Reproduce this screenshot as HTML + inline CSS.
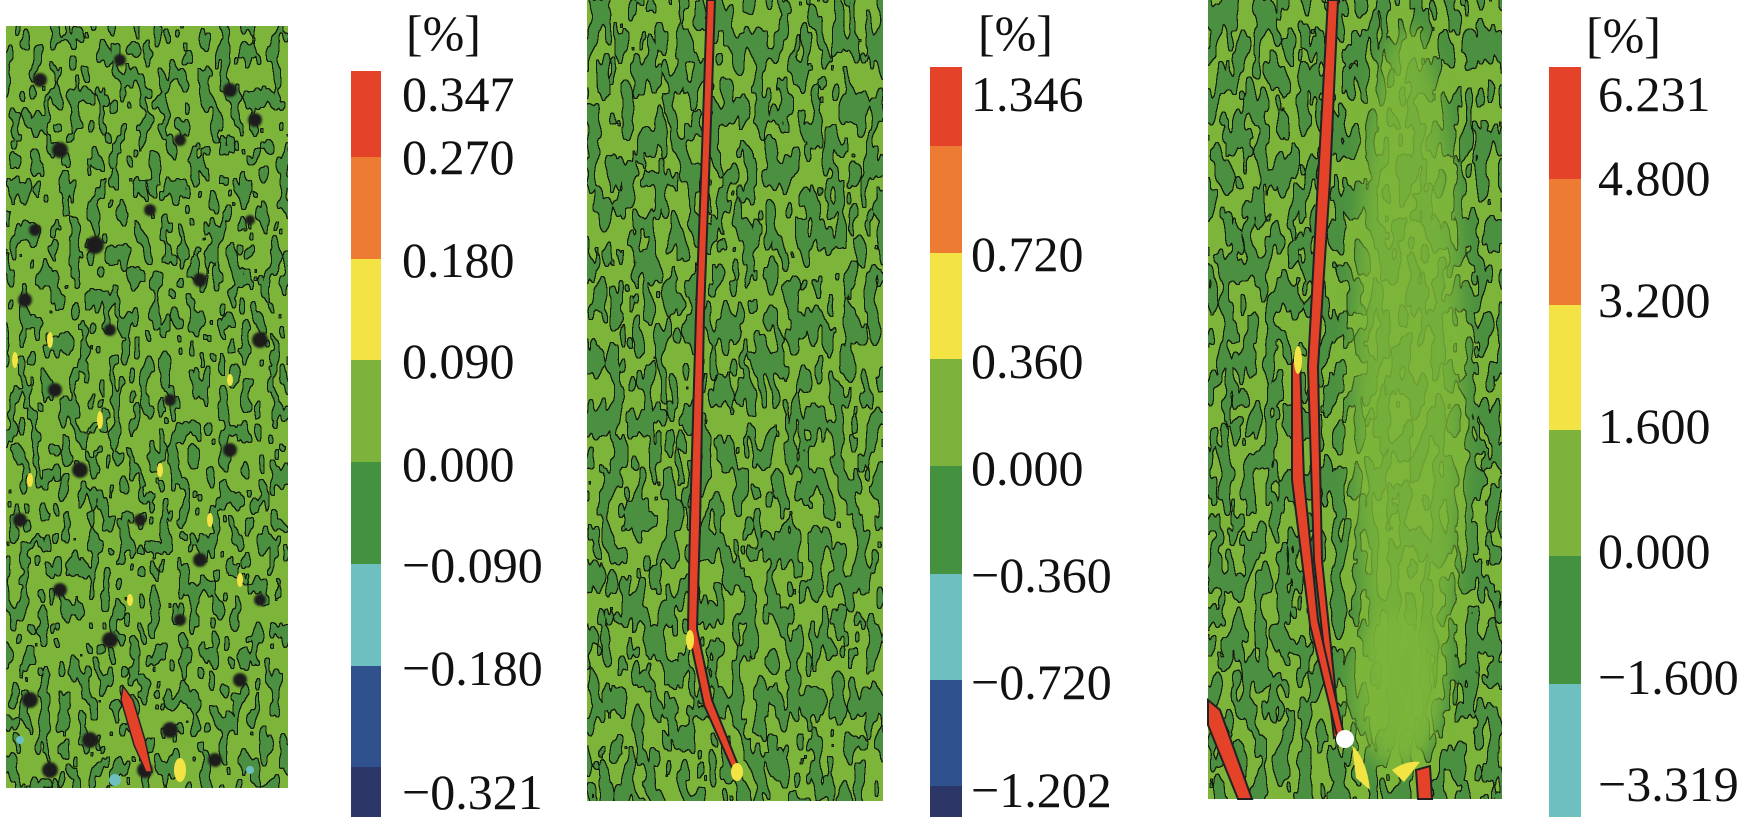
<!DOCTYPE html>
<html><head><style>
html,body{margin:0;padding:0;background:#fff;width:1749px;height:817px;overflow:hidden}
svg text{font-family:"Liberation Serif",serif;font-size:50px;fill:#111}
</style></head><body>
<svg width="1749" height="817" viewBox="0 0 1749 817" xmlns="http://www.w3.org/2000/svg">
<defs>
<filter id="b1" filterUnits="userSpaceOnUse" x="6" y="26" width="282" height="762" color-interpolation-filters="sRGB">
<feTurbulence type="fractalNoise" baseFrequency="0.1 0.045" numOctaves="2" seed="3" result="n"/>
<feColorMatrix in="n" type="matrix" values="0 0 0 0 0  0 0 0 0 0  0 0 0 0 0  -9 0 0 0 4.35" result="a"/>
<feComponentTransfer in="a" result="m"><feFuncA type="discrete" tableValues="0 1"/></feComponentTransfer>
<feMorphology in="m" operator="dilate" radius="1.2" result="d"/>
<feComposite in="d" in2="m" operator="out" result="e0"/>
<feColorMatrix in="e0" type="matrix" values="0 0 0 0 0.08  0 0 0 0 0.1  0 0 0 0 0.06  0 0 0 1 0" result="e"/>
<feFlood flood-color="#4a9040" result="c"/>
<feComposite in="c" in2="m" operator="in" result="dk"/>
<feMerge><feMergeNode in="dk"/><feMergeNode in="e"/></feMerge>
</filter>
<filter id="b2" filterUnits="userSpaceOnUse" x="587" y="0" width="296" height="801" color-interpolation-filters="sRGB">
<feTurbulence type="fractalNoise" baseFrequency="0.09 0.032" numOctaves="2" seed="7" result="n"/>
<feColorMatrix in="n" type="matrix" values="0 0 0 0 0  0 0 0 0 0  0 0 0 0 0  -9 0 0 0 4.8" result="a"/>
<feComponentTransfer in="a" result="m"><feFuncA type="discrete" tableValues="0 1"/></feComponentTransfer>
<feMorphology in="m" operator="dilate" radius="1.2" result="d"/>
<feComposite in="d" in2="m" operator="out" result="e0"/>
<feColorMatrix in="e0" type="matrix" values="0 0 0 0 0.08  0 0 0 0 0.1  0 0 0 0 0.06  0 0 0 1 0" result="e"/>
<feFlood flood-color="#4a9040" result="c"/>
<feComposite in="c" in2="m" operator="in" result="dk"/>
<feMerge><feMergeNode in="dk"/><feMergeNode in="e"/></feMerge>
</filter>
<filter id="b3" filterUnits="userSpaceOnUse" x="1208" y="0" width="294" height="799" color-interpolation-filters="sRGB">
<feTurbulence type="fractalNoise" baseFrequency="0.09 0.032" numOctaves="2" seed="11" result="n"/>
<feColorMatrix in="n" type="matrix" values="0 0 0 0 0  0 0 0 0 0  0 0 0 0 0  -9 0 0 0 4.9" result="a"/>
<feComponentTransfer in="a" result="m"><feFuncA type="discrete" tableValues="0 1"/></feComponentTransfer>
<feMorphology in="m" operator="dilate" radius="1.2" result="d"/>
<feComposite in="d" in2="m" operator="out" result="e0"/>
<feColorMatrix in="e0" type="matrix" values="0 0 0 0 0.08  0 0 0 0 0.1  0 0 0 0 0.06  0 0 0 1 0" result="e"/>
<feFlood flood-color="#4a9040" result="c"/>
<feComposite in="c" in2="m" operator="in" result="dk"/>
<feMerge><feMergeNode in="dk"/><feMergeNode in="e"/></feMerge>
</filter>
<filter id="soft" x="-50%" y="-50%" width="200%" height="200%"><feGaussianBlur stdDeviation="10"/></filter>
<filter id="sp"><feGaussianBlur stdDeviation="1"/></filter>
</defs>

<!-- Panel 1 -->
<rect x="6" y="26" width="282" height="762" fill="#7cb53a"/>
<rect x="6" y="26" width="282" height="762" filter="url(#b1)"/>
<g fill="#1e1e1a" filter="url(#sp)">
<circle cx="40" cy="80" r="7"/><circle cx="120" cy="60" r="6"/><circle cx="230" cy="90" r="7"/><circle cx="60" cy="150" r="8"/>
<circle cx="180" cy="140" r="6"/><circle cx="255" cy="120" r="7"/><circle cx="95" cy="245" r="9"/><circle cx="150" cy="210" r="6"/>
<circle cx="25" cy="300" r="7"/><circle cx="200" cy="280" r="7"/><circle cx="260" cy="340" r="8"/><circle cx="110" cy="330" r="6"/>
<circle cx="55" cy="390" r="7"/><circle cx="170" cy="400" r="6"/><circle cx="230" cy="450" r="7"/><circle cx="80" cy="470" r="8"/>
<circle cx="20" cy="520" r="7"/><circle cx="140" cy="520" r="6"/><circle cx="200" cy="560" r="7"/><circle cx="60" cy="590" r="7"/>
<circle cx="110" cy="640" r="8"/><circle cx="240" cy="680" r="7"/><circle cx="30" cy="700" r="8"/><circle cx="90" cy="740" r="8"/>
<circle cx="170" cy="730" r="8"/><circle cx="215" cy="760" r="7"/><circle cx="50" cy="770" r="8"/><circle cx="145" cy="770" r="8"/>
<circle cx="260" cy="600" r="6"/><circle cx="180" cy="620" r="6"/><circle cx="35" cy="230" r="6"/><circle cx="250" cy="220" r="5"/>
</g>
<g fill="#f2e444">
<ellipse cx="50" cy="340" rx="3" ry="8"/><ellipse cx="100" cy="420" rx="3" ry="9"/><ellipse cx="160" cy="470" rx="3" ry="7"/><ellipse cx="230" cy="380" rx="3" ry="6"/>
<ellipse cx="30" cy="480" rx="3" ry="7"/><ellipse cx="210" cy="520" rx="3" ry="7"/><ellipse cx="130" cy="600" rx="3" ry="6"/><ellipse cx="15" cy="360" rx="3" ry="8"/>
<ellipse cx="180" cy="770" rx="6" ry="12"/><ellipse cx="240" cy="580" rx="3" ry="7"/>
</g>
<g fill="#6ec0c0"><circle cx="115" cy="780" r="6"/><circle cx="20" cy="740" r="4"/><circle cx="250" cy="770" r="4"/></g>
<path d="M123 686 L133 700 L145 740 L152 772 L146 772 L134 745 L121 700Z" fill="#e4432a" stroke="#222" stroke-width="1.5"/>

<!-- Colorbar 1 -->
<rect x="351" y="71" width="30" height="86" fill="#e4432a"/>
<rect x="351" y="157" width="30" height="102" fill="#ee7b33"/>
<rect x="351" y="259" width="30" height="101" fill="#f3e345"/>
<rect x="351" y="360" width="30" height="102" fill="#7db23c"/>
<rect x="351" y="462" width="30" height="102" fill="#449140"/>
<rect x="351" y="564" width="30" height="102" fill="#6ec0c0"/>
<rect x="351" y="666" width="30" height="101" fill="#2f528f"/>
<rect x="351" y="767" width="30" height="53" fill="#2c3768"/>
<text x="406" y="50">[%]</text>
<text x="402" y="111">0.347</text>
<text x="402" y="174">0.270</text>
<text x="402" y="277">0.180</text>
<text x="402" y="378">0.090</text>
<text x="402" y="481">0.000</text>
<text x="402" y="582">−0.090</text>
<text x="402" y="685">−0.180</text>
<text x="402" y="809">−0.321</text>

<!-- Panel 2 -->
<rect x="587" y="0" width="296" height="801" fill="#7cb53a"/>
<rect x="587" y="0" width="296" height="801" filter="url(#b2)"/>
<path d="M707 0 L715 0 L710 150 L704 314 L700 524 L697 629 L712 700 L738 765 L732 768 L704 705 L688 629 L690 524 L696 314 L702 150Z" fill="#e4432a" stroke="#222" stroke-width="2"/>
<ellipse cx="737" cy="772" rx="6" ry="9" fill="#f2e444"/>
<ellipse cx="690" cy="640" rx="4" ry="10" fill="#f2e444"/>

<!-- Colorbar 2 -->
<rect x="930" y="67" width="32" height="79" fill="#e4432a"/>
<rect x="930" y="146" width="32" height="107" fill="#ee7b33"/>
<rect x="930" y="253" width="32" height="106" fill="#f3e345"/>
<rect x="930" y="359" width="32" height="107" fill="#7db23c"/>
<rect x="930" y="466" width="32" height="108" fill="#449140"/>
<rect x="930" y="574" width="32" height="106" fill="#6ec0c0"/>
<rect x="930" y="680" width="32" height="106" fill="#2f528f"/>
<rect x="930" y="786" width="32" height="34" fill="#2c3768"/>
<text x="978" y="50">[%]</text>
<text x="971" y="111">1.346</text>
<text x="971" y="271">0.720</text>
<text x="971" y="378">0.360</text>
<text x="971" y="485">0.000</text>
<text x="971" y="592">−0.360</text>
<text x="971" y="699">−0.720</text>
<text x="971" y="807">−1.202</text>

<!-- Panel 3 -->
<rect x="1208" y="0" width="294" height="799" fill="#7cb53a"/>
<rect x="1208" y="0" width="294" height="799" filter="url(#b3)"/>
<ellipse cx="1408" cy="395" rx="55" ry="370" fill="#7cb53a" filter="url(#soft)" opacity="0.85"/>
<ellipse cx="1395" cy="690" rx="45" ry="80" fill="#7cb53a" filter="url(#soft)" opacity="0.85"/>
<path d="M1328 0 L1338 0 L1330 180 L1318 367 L1322 560 L1340 735 L1334 738 L1314 560 L1308 367 L1318 180Z" fill="#e4432a" stroke="#222" stroke-width="2"/>
<path d="M1292 362 L1300 360 L1304 480 L1318 620 L1344 735 L1338 740 L1310 625 L1292 480Z" fill="#e4432a" stroke="#222" stroke-width="2"/>
<path d="M1208 700 L1220 710 L1252 799 L1238 799 L1208 725Z" fill="#e4432a" stroke="#222" stroke-width="2"/>
<path d="M1416 770 L1430 766 L1432 799 L1418 799Z" fill="#e4432a" stroke="#222" stroke-width="2"/>
<path d="M1352 745 q15 15 18 45 l-14 -12z M1392 770 q15 -10 28 -8 l-16 20z" fill="#f2e444"/>
<ellipse cx="1298" cy="360" rx="4" ry="14" fill="#f2e444"/>
<circle cx="1345" cy="739" r="9" fill="#fff"/>

<!-- Colorbar 3 -->
<rect x="1549" y="67" width="32" height="112" fill="#e4432a"/>
<rect x="1549" y="179" width="32" height="126" fill="#ee7b33"/>
<rect x="1549" y="305" width="32" height="125" fill="#f3e345"/>
<rect x="1549" y="430" width="32" height="126" fill="#7db23c"/>
<rect x="1549" y="556" width="32" height="128" fill="#449140"/>
<rect x="1549" y="684" width="32" height="136" fill="#6ec0c0"/>
<text x="1586" y="52">[%]</text>
<text x="1598" y="111">6.231</text>
<text x="1598" y="195">4.800</text>
<text x="1598" y="317">3.200</text>
<text x="1598" y="443">1.600</text>
<text x="1598" y="568">0.000</text>
<text x="1598" y="694">−1.600</text>
<text x="1598" y="801">−3.319</text>
</svg>
</body></html>
